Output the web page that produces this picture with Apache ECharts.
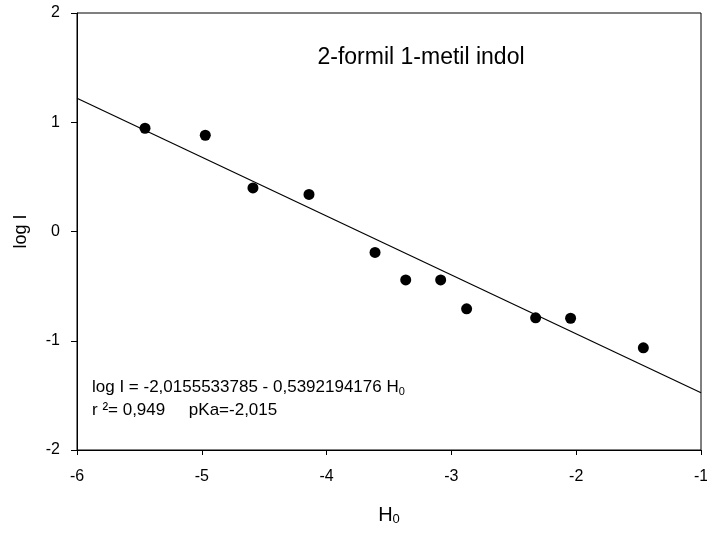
<!DOCTYPE html>
<html><head><meta charset="utf-8">
<script src="https://cdn.jsdelivr.net/npm/echarts@6/dist/echarts.min.js"></script>
<style>html,body{margin:0;padding:0;background:#fff}#c{width:707px;height:533px}</style>
</head><body><div id="c"></div>
<script>
const hX = [-5.455, -4.972, -4.59, -4.141, -3.612, -3.366, -3.086, -2.878, -2.325, -2.045, -1.462];
const logI = [0.945, 0.881, 0.399, 0.339, -0.192, -0.443, -0.443, -0.708, -0.790, -0.794, -1.065];
const intercept = -2.0155533785;
const slope = -0.5392194176;
const fitX = [-6, -1];
const xTicks = [-6, -5, -4, -3, -2, -1];
const yTicks = [-2, -1, 0, 1, 2];
const titleText = '2-formil 1-metil indol';

const fitData = fitX.map(x => [x, intercept + slope * x]);
const font = 'Liberation Sans, Arial, sans-serif';
const chart = echarts.init(document.getElementById('c'), null, {renderer: 'canvas'});
chart.setOption({
  animation: false,
  backgroundColor: '#fff',
  grid: {left: 77, right: 6, top: 13, bottom: 83, show: true, borderColor: '#000', borderWidth: 1,
    backgroundColor: 'transparent', containLabel: false, outerBoundsMode: 'none'},
  xAxis: {
    type: 'value', min: -6, max: -1, interval: 1,
    axisLine: {show: true, onZero: false, lineStyle: {color: '#000', width: 1}},
    axisTick: {show: true, inside: false, length: 5, lineStyle: {color: '#000'}},
    axisLabel: {color: '#000', fontSize: 16, fontFamily: font, margin: 19, showMinLabel: true, showMaxLabel: true},
    splitLine: {show: false},
    name: 'H{sub|0}', nameLocation: 'middle', nameGap: 54,
    nameTextStyle: {color: '#000', fontSize: 20, fontFamily: font,
      rich: {sub: {fontSize: 13, fontFamily: font, verticalAlign: 'bottom', padding: [9, 0, 0, 0], color: '#000'}}}
  },
  yAxis: {
    type: 'value', min: -2, max: 2, interval: 1,
    axisLine: {show: true, onZero: false, lineStyle: {color: '#000', width: 1}},
    axisTick: {show: true, inside: false, length: 6, lineStyle: {color: '#000'}},
    axisLabel: {color: '#000', fontSize: 16, fontFamily: font, margin: 17, showMinLabel: true, showMaxLabel: true},
    splitLine: {show: false},
    name: 'log I', nameLocation: 'middle', nameGap: 47, nameRotate: 90,
    nameTextStyle: {color: '#000', fontSize: 18, fontFamily: font}
  },
  series: [
    {type: 'line', data: fitData, showSymbol: false, symbol: 'none', lineStyle: {color: '#000', width: 1.2}, z: 2},
    {type: 'scatter', data: hX.map((x, i) => [x, logI[i]]), symbol: 'circle', symbolSize: 11, itemStyle: {color: '#000', opacity: 1}, z: 3}
  ],
  graphic: [
    {type: 'text', x: 421, y: 58, style: {text: titleText, fill: '#000', font: '23px ' + font, textAlign: 'center', textVerticalAlign: 'middle'}},
    {type: 'text', x: 92, y: 378, style: {
      text: 'log I = -2,0155533785 - 0,5392194176 H{sub|0}', fill: '#000', font: '17px ' + font,
      rich: {sub: {fontSize: 11, fontFamily: font, fill: '#000', padding: [8, 0, 0, 0], verticalAlign: 'bottom'}}}},
    {type: 'text', x: 92, y: 402, style: {text: 'r \u00b2= 0,949     pKa=-2,015', fill: '#000', font: '17px ' + font}}
  ]
});
</script></body></html>
